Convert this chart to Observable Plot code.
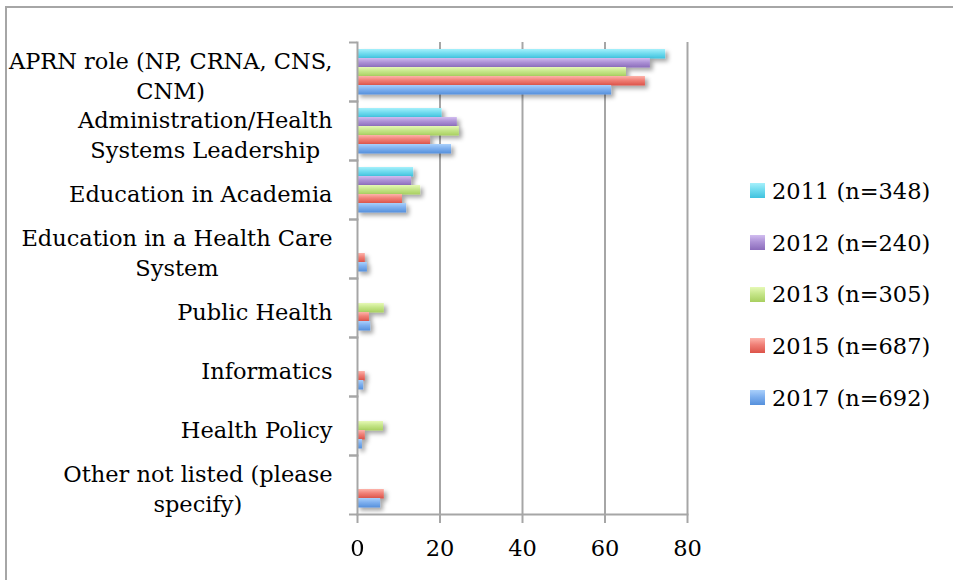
<!DOCTYPE html>
<html>
<head>
<meta charset="utf-8">
<script src="https://cdn.jsdelivr.net/npm/d3@7"></script>
<script src="https://cdn.jsdelivr.net/npm/@observablehq/plot@0.6"></script>
<style>
  html, body { margin: 0; padding: 0; background: #fff; }
  body { width: 953px; height: 580px; position: relative; overflow: hidden; font-family: "DejaVu Serif", serif; }
  #frame { position: absolute; left: 5px; top: 6px; width: 960px; height: 600px; border-top: 2px solid #a6a6a6; border-left: 2px solid #a6a6a6; }
  #chart { position: absolute; left: 0; top: 0; }
  #legend { position: absolute; left: 750px; top: 165px; font-size: 22.5px; color: #000; }
  .item { display: flex; align-items: center; height: 51.7px; }
  .sw { width: 15px; height: 15px; margin-right: 7px; }
</style>
</head>
<body>
<div id="frame"></div>
<div id="chart"></div>
<div id="legend"></div>
<script>
// ---- data ----
const categories = [
  "APRN role (NP, CRNA, CNS, CNM)",
  "Administration/Health Systems Leadership",
  "Education in Academia",
  "Education in a Health Care System",
  "Public Health",
  "Informatics",
  "Health Policy",
  "Other not listed (please specify)"
];
const categoryLabels = [
  "APRN role (NP, CRNA, CNS,\nCNM)",
  "Administration/Health\nSystems Leadership",
  "Education in Academia",
  "Education in a Health Care\nSystem",
  "Public Health",
  "Informatics",
  "Health Policy",
  "Other not listed (please\nspecify)"
];
const years = ["2011", "2012", "2013", "2015", "2017"];
const sampleSizes = [348, 240, 305, 687, 692];
const values2011 = [74.7, 20.5, 13.6, 0, 0, 0, 0, 0];
const values2012 = [71.0, 24.2, 13.1, 0, 0, 0, 0, 0];
const values2013 = [65.2, 24.7, 15.3, 0, 6.5, 0, 6.3, 0];
const values2015 = [69.8, 17.7, 10.9, 1.9, 2.9, 1.9, 1.9, 6.5];
const values2017 = [61.6, 22.8, 11.9, 2.4, 3.2, 1.5, 1.2, 5.6];
const xTicks = [0, 20, 40, 60, 80];

// ---- styles ----
const gradients = [
  ["#a6f0fb", "#72dcef", "#3fc2de"],
  ["#d2bdf0", "#ad92d6", "#8b6cbb"],
  ["#e6f9b6", "#c6e68a", "#a8cf5f"],
  ["#fdb4ab", "#f07f76", "#dc5349"],
  ["#aad0fb", "#7fb0ef", "#5590dc"]
];
const gray = "#a6a6a6";
const FS = 22.5;

const series = [values2011, values2012, values2013, values2015, values2017];
const rows = [];
years.forEach((yr, i) => categories.forEach((c, j) => rows.push({category: c, year: yr, value: series[i][j]})));

const H = 580, MT = 42, MB = 66;
const half = (H - MT - MB) / categories.length / 2;

const plot = Plot.plot({
  width: 700, height: H,
  marginLeft: 357, marginRight: 13, marginTop: MT, marginBottom: MB,
  style: {background: "transparent", fontFamily: "DejaVu Serif", fontSize: FS + "px", overflow: "visible"},
  x: {domain: [0, 80], label: null},
  y: {domain: years, paddingInner: 0, paddingOuter: 0.68, axis: null, label: null},
  fy: {domain: categories, padding: 0, label: null},
  marks: [
    Plot.gridX({ticks: [20, 40, 60, 80], stroke: gray, strokeOpacity: 1, strokeWidth: 2}),
    ...years.map((yr, i) => Plot.barX(rows.filter(d => d.year === yr && d.value > 0), {
      x: "value", y: "year", fy: "category", fill: `url(#grad${i})`, insetBottom: -0.5
    })),
    Plot.frame({anchor: "left", stroke: gray, strokeWidth: 2}),
    Plot.frame({anchor: "bottom", stroke: gray, strokeWidth: 2, facetAnchor: "bottom"}),
    Plot.axisX({ticks: xTicks, tickSize: 9, tickPadding: 17, stroke: gray, strokeWidth: 2, fill: "#000", fontSize: FS, label: null}),
    Plot.axisFy({anchor: "left", tickSize: 8, tickFormat: () => "", dy: -half, stroke: gray, strokeWidth: 2, label: null}),
    Plot.axisFy({anchor: "left", tickSize: 8, tickFormat: () => "", dy: half, stroke: gray, strokeWidth: 2, label: null}),
    Plot.axisFy({anchor: "left", tickSize: 0, tickPadding: 25, tickFormat: d => categoryLabels[categories.indexOf(d)], lineHeight: 1.36, fill: "#000", fontSize: FS, label: null, dy: 2})
  ]
});
document.getElementById("chart").appendChild(plot);

// defs: gradients + shadow
const svg = d3.select(plot);
const defs = svg.insert("defs", ":first-child");
gradients.forEach((g, i) => {
  const lg = defs.append("linearGradient").attr("id", `grad${i}`).attr("x1", 0).attr("y1", 0).attr("x2", 0).attr("y2", 1);
  lg.append("stop").attr("offset", "0%").attr("stop-color", g[0]);
  lg.append("stop").attr("offset", "45%").attr("stop-color", g[1]);
  lg.append("stop").attr("offset", "100%").attr("stop-color", g[2]);
});
const f = defs.append("filter").attr("id", "shadow").attr("x", "-20%").attr("y", "-50%").attr("width", "150%").attr("height", "250%");
f.append("feDropShadow").attr("dx", 3).attr("dy", 3).attr("stdDeviation", 2).attr("flood-color", "#000").attr("flood-opacity", 0.35);
svg.selectAll('g[aria-label="bar"]').attr("filter", "url(#shadow)");

// center multi-line category labels within their right-aligned block
svg.selectAll('g[aria-label="fy-axis tick label"] text').each(function() {
  const spans = d3.select(this).selectAll("tspan");
  if (spans.size() < 2) return;
  let w = 0;
  spans.each(function() { w = Math.max(w, this.getComputedTextLength()); });
  d3.select(this).attr("text-anchor", "middle");
  spans.attr("x", -w / 2);
});

// legend
const legend = d3.select("#legend");
years.forEach((yr, i) => {
  const it = legend.append("div").attr("class", "item");
  it.append("div").attr("class", "sw").style("background", `linear-gradient(${gradients[i][0]}, ${gradients[i][1]} 45%, ${gradients[i][2]})`);
  it.append("span").text(`${yr} (n=${sampleSizes[i]})`);
});
</script>
</body>
</html>
